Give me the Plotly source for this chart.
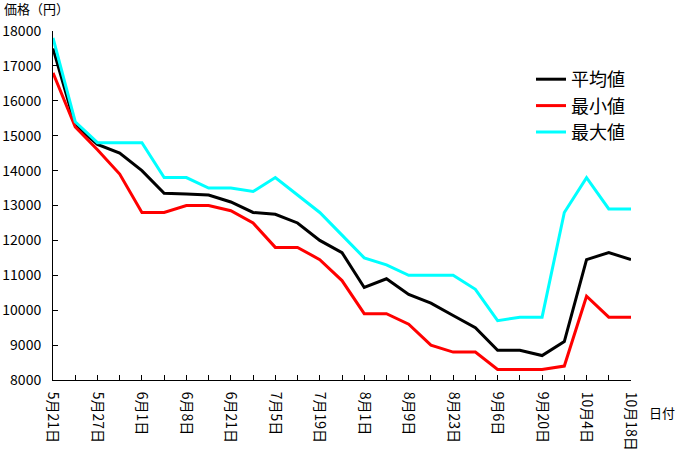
import plotly.graph_objects as go

dates = ["5月21日", "", "5月27日", "", "6月1日", "", "6月8日", "", "6月21日", "",
         "7月5日", "", "7月19日", "", "8月1日", "", "8月9日", "", "8月23日", "",
         "9月6日", "", "9月20日", "", "10月4日", "", "10月18日"]

avg_vals = [17500, 15300, 14750, 14500, 14000, 13350, 13330, 13300, 13100, 12800,
            12750, 12500, 12000, 11650, 10650, 10900, 10450, 10200, 9850, 9500,
            8850, 8850, 8700, 9100, 11450, 11650, 11450]
min_vals = [16800, 15250, 14600, 13900, 12800, 12800, 13000, 13000, 12850, 12500,
            11800, 11800, 11450, 10850, 9900, 9900, 9600, 9000, 8800, 8800,
            8300, 8300, 8300, 8400, 10400, 9800, 9800]
max_vals = [17800, 15400, 14800, 14800, 14800, 13800, 13800, 13500, 13500, 13400,
            13800, 13300, 12800, 12150, 11500, 11300, 11000, 11000, 11000, 10600,
            9700, 9800, 9800, 12800, 13800, 12900, 12900]

y_ticks = [8000, 9000, 10000, 11000, 12000, 13000, 14000, 15000, 16000, 17000, 18000]

series_names = ["平均値", "最小値", "最大値"]
series_colors = ["#000000", "#ff0000", "#00ffff"]

x_idx = list(range(len(dates)))
font_family = "Noto Sans CJK JP"

fig = go.Figure()
for name, vals, col in zip(series_names, [avg_vals, min_vals, max_vals], series_colors):
    fig.add_trace(go.Scatter(x=x_idx, y=vals, mode="lines", name=name,
                             line=dict(color=col, width=3)))

L, R, T, B = 53, 55, 31, 74
W, H = 686, 454
pw = W - L - R
ph = H - T - B

fig.update_layout(
    width=W, height=H,
    margin=dict(l=L, r=R, t=T, b=B, pad=0),
    paper_bgcolor="white", plot_bgcolor="white",
    font=dict(family=font_family, size=14, color="black"),
    showlegend=True,
    legend=dict(x=(531 - L) / pw, y=(380 - 61) / ph, xanchor="left", yanchor="top",
                font=dict(size=18, color="black"), bgcolor="rgba(0,0,0,0)",
                itemwidth=30),
    xaxis=dict(
        range=[0, len(dates) - 1], tickmode="array", tickvals=x_idx, ticktext=dates,
        tickangle=90, ticks="inside", ticklen=5, tickcolor="black",
        showline=True, linecolor="black", linewidth=1, showgrid=False, zeroline=False,
        ticklabelstandoff=8, tickfont=dict(size=14), automargin=False,
    ),
    yaxis=dict(
        range=[8000, 18000], tickmode="array", tickvals=y_ticks,
        ticktext=[str(v) for v in y_ticks],
        ticks="inside", ticklen=5, tickcolor="black",
        showline=True, linecolor="black", linewidth=1, showgrid=False, zeroline=False,
        ticklabelstandoff=8, tickfont=dict(size=14), automargin=False,
    ),
    annotations=[
        dict(text="価格（円）", xref="paper", yref="paper", x=(2 - L) / pw, y=(380 - 9) / ph,
             xanchor="left", yanchor="middle", showarrow=False, font=dict(size=13)),
        dict(text="日付", xref="paper", yref="paper", x=(647 - L) / pw, y=(380 - 412) / ph,
             xanchor="left", yanchor="middle", showarrow=False, font=dict(size=13)),
    ],
)

fig.write_html("out.html")
